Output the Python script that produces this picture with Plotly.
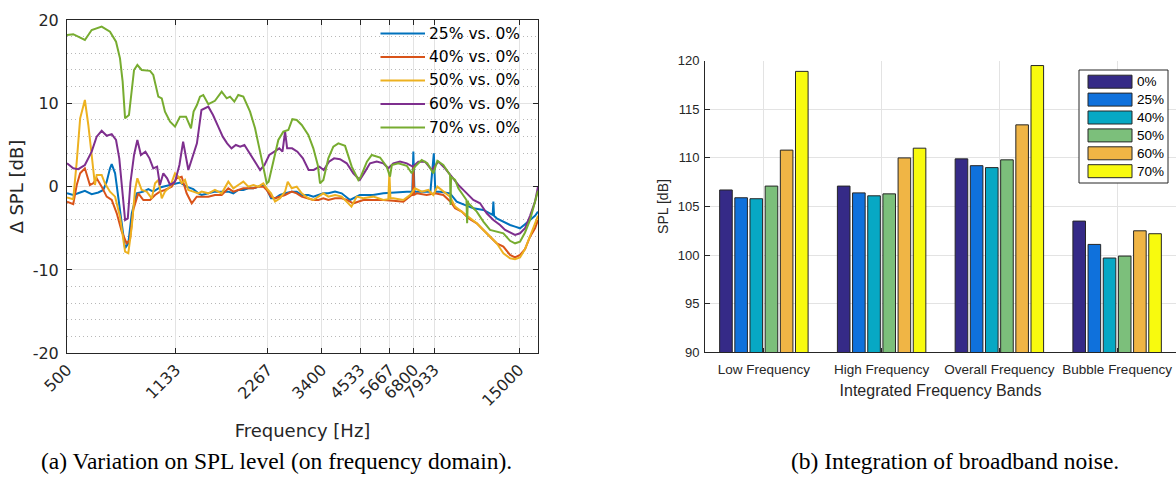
import math
import plotly.graph_objects as go

# ---------------- Left panel: delta SPL vs frequency ----------------
f25 = [500, 524, 552, 572, 602, 633, 657, 674, 691, 700, 718, 736, 755, 774, 793, 814, 845, 888, 922, 957,
       1006, 1059, 1127, 1170, 1230, 1293, 1343, 1377, 1448, 1522, 1601, 1683, 1748, 1814, 1884, 1956, 2032,
       2110, 2190, 2247, 2321, 2392, 2483, 2579, 2712, 2816, 2924, 3073, 3191, 3314, 3441, 3572, 3757, 3950,
       4206, 4527, 5000, 5404, 5825, 6445, 6720, 6772, 6830, 7120, 7700, 7900, 7990, 8279, 8925, 9383, 9992,
       10637, 11468, 12060, 12300, 12365, 12430, 12683, 13332, 14019, 14558, 15111, 15690, 16294, 16918, 17300]
d25 = [-0.8, -1.0, -0.7, -0.5, -0.9, -0.7, -0.4, 0.6, 2.2, 2.7, 1.6, -1.6, -4.8, -7.4, -6.8, -3.2, -0.8, -0.6, -0.3, -0.6,
       -0.1, 0.1, 0.4, 0.5, 0.0, -0.3, -0.8, -1.0, -0.8, -0.6, -0.6, -0.6, -0.8, -0.4, -0.4, -0.2, -0.2,
       0.0, 0.2, -0.3, -1.4, -1.4, -1.0, -0.8, -0.6, -0.6, -1.0, -1.0, -1.2, -1.0, -0.8, -0.8, -0.6, -0.8,
       -1.6, -1.0, -1.0, -0.8, -0.7, -0.6, -0.6, 4.2, -0.6, -0.6, -0.6, 4.0, -0.6, -0.6, -0.8, -1.8, -2.2,
       -2.6, -2.8, -3.2, -3.4, -1.8, -3.5, -3.8, -4.2, -4.6, -4.8, -5.0, -4.5, -4.0, -3.5, -3.0]

f40 = [500, 524, 538, 552, 572, 594, 609, 625, 649, 674, 700, 727, 755, 783, 803, 823, 855, 888, 934, 970,
       1006, 1045, 1099, 1141, 1185, 1230, 1278, 1327, 1377, 1448, 1522, 1601, 1683, 1748, 1814, 1884, 1956,
       2032, 2110, 2190, 2247, 2321, 2392, 2483, 2579, 2712, 2816, 2924, 3073, 3191, 3314, 3441, 3572, 3757,
       3950, 4102, 4311, 4648, 5012, 5404, 5825, 6281, 6689, 6740, 6772, 6810, 6947, 7488, 7970, 8484, 8960,
       9271, 9746, 10246, 10913, 11468, 12060, 12683, 13332, 14019, 14558, 15111, 15690, 16294, 16918, 17300]
d40 = [-1.8, -2.1, 0.2, 1.6, 2.2, 0.2, 0.4, 1.0, 0.0, -1.2, -1.6, -3.2, -5.4, -6.8, -6.4, -2.8, -0.8, -1.6, -1.6, -1.0,
       -0.6, -0.4, 0.0, 1.0, 1.2, -0.8, -2.0, -1.2, -1.2, -1.2, -1.0, -1.0, -0.2, -0.6, -0.4, -0.2, -0.2,
       -0.2, 0.0, 0.0, -0.4, -1.2, -1.4, -1.2, -1.0, -0.6, -0.8, -1.2, -1.4, -1.6, -1.6, -1.4, -1.6, -1.4,
       -1.4, -1.6, -2.0, -1.6, -1.6, -1.6, -1.7, -1.8, -1.0, -1.0, 2.6, -1.0, -0.8, -1.0, -0.8, -1.0, -1.8,
       -2.6, -3.0, -3.8, -4.4, -5.2, -6.0, -6.8, -7.2, -8.2, -8.5, -8.2, -7.5, -6.0, -5.0, -4.0]

f50 = [500, 524, 538, 552, 572, 587, 602, 617, 625, 649, 665, 691, 718, 745, 774, 793, 814, 834, 849, 877,
       911, 946, 970, 994, 1020, 1045, 1086, 1127, 1155, 1185, 1215, 1245, 1293, 1343, 1377, 1448, 1522,
       1601, 1683, 1748, 1814, 1884, 1956, 2032, 2110, 2190, 2247, 2321, 2392, 2483, 2579, 2632, 2712, 2816,
       2924, 3073, 3191, 3314, 3441, 3572, 3757, 3950, 4102, 4250, 4423, 4648, 5012, 5404, 5610, 5654, 5700,
       5825, 6281, 6604, 6859, 7213, 7579, 7868, 8113, 8484, 8925, 9271, 9746, 10246, 10913, 11468, 12060,
       12683, 13332, 14019, 14558, 15111, 15690, 16294, 16918, 17300]
d50 = [-1.3, -1.5, 3.0, 8.2, 10.4, 7.4, 3.8, 0.2, 1.4, 1.4, 0.4, -0.6, -1.2, -3.6, -7.8, -8.0, -4.8, -0.4, 1.0, -0.4,
       -0.6, -1.4, 0.4, 0.8, -1.4, -0.6, 0.0, 1.6, 1.2, 0.4, 0.8, -0.4, -0.6, -0.8, -0.6, -0.8, -0.4,
       -0.8, 0.6, -0.2, 0.2, 0.6, 0.0, 0.2, 0.0, 0.4, -0.2, -0.8, -1.8, -1.4, -0.6, 0.6, -0.2, 0.0,
       -0.8, -1.4, -1.6, -1.2, -0.8, -1.2, -1.0, -1.2, -1.8, -2.4, -1.2, -1.4, -1.2, -1.6, -1.5, 1.6, -1.4,
       -1.4, -1.6, -1.0, -0.2, -0.6, -0.4, -1.0, 0.0, -0.6, -1.2, -2.4, -3.0, -3.6, -4.4, -5.2, -6.0,
       -6.8, -8.0, -8.6, -8.7, -8.5, -7.5, -6.0, -4.5, -3.5]

f60 = [500, 524, 544, 572, 602, 625, 649, 674, 700, 723, 741, 756, 774, 790, 806, 828, 849, 872, 902, 930,
       957, 985, 1006, 1032, 1062, 1086, 1127, 1165, 1198, 1246, 1296, 1329, 1345, 1375, 1448, 1500, 1560,
       1614, 1668, 1724, 1781, 1840, 1900, 1962, 2030, 2100, 2138, 2210, 2290, 2380, 2470, 2530, 2580, 2620,
       2720, 2830, 2950, 3080, 3200, 3340, 3450, 3590, 3730, 3900, 4102, 4311, 4527, 4708, 4888, 5141, 5404,
       5609, 5825, 6125, 6445, 6741, 7030, 7396, 7775, 8173, 8595, 9039, 9502, 9992, 10637, 11186, 11762,
       12365, 13002, 13507, 14558, 15111, 15690, 16294, 16918, 17300]
d60 = [2.8, 2.2, 2.1, 2.6, 4.2, 6.0, 6.7, 6.1, 6.3, 5.6, 3.4, -0.2, -4.0, -3.8, 0.5, 3.8, 5.6, 3.8, 4.2, 3.4,
       2.2, 2.4, 0.2, 1.6, 1.0, 0.2, 0.6, 2.6, 5.4, 2.0, 3.8, 5.2, 6.6, 9.2, 9.6, 8.6, 7.2,
       6.0, 5.2, 4.6, 5.0, 4.8, 5.0, 4.2, 3.4, 2.6, 2.0, 2.6, 3.8, 4.2, 4.6, 4.2, 6.6, 4.6,
       4.6, 4.2, 3.4, 2.0, 2.0, 2.4, 2.0, 3.0, 3.4, 3.3, 2.8, 1.6, 0.8, 1.8, 2.8, 3.0, 2.8,
       2.2, 2.8, 3.0, 2.8, 2.4, 3.0, 3.0, 2.0, 3.0, 2.2, 1.2, 0.2, -0.6, -1.6, -2.0, -3.2,
       -4.0, -4.6, -5.2, -5.8, -5.6, -5.0, -3.5, -1.8, 0.0]

f70 = [500, 524, 572, 602, 649, 691, 723, 745, 760, 774, 797, 814, 828, 849, 877, 934, 957, 994, 1020, 1045,
       1086, 1127, 1170, 1224, 1271, 1296, 1329, 1360, 1394, 1448, 1522, 1601, 1663, 1705, 1761, 1814, 1884,
       1982, 2058, 2137, 2190, 2247, 2280, 2361, 2452, 2546, 2644, 2725, 2816, 2924, 3073, 3191, 3299, 3356,
       3441, 3572, 3709, 3852, 4051, 4260, 4477, 4560, 4775, 4952, 5272, 5543, 5682, 5760, 6048, 6445, 6689,
       6859, 7213, 7523, 7868, 8113, 8484, 8925, 8960, 8995, 9271, 9502, 9866, 10100, 10150, 10200, 10246,
       10913, 11468, 12060, 12683, 13332, 14019, 14558, 15111, 15690, 16294, 16918, 17300]
d70 = [18.2, 18.3, 17.6, 18.8, 19.2, 18.6, 17.4, 15.4, 12.6, 8.2, 8.6, 11.8, 14.0, 14.6, 14.0, 13.9, 13.4, 10.8, 10.6, 9.0,
       7.8, 7.2, 8.4, 8.4, 7.0, 9.0, 9.8, 10.8, 11.0, 9.9, 10.3, 11.4, 10.6, 10.8, 10.2, 11.0, 10.8,
       9.0, 7.0, 4.2, 2.2, 0.4, 0.6, 3.0, 5.6, 6.6, 6.8, 8.1, 8.0, 7.4, 6.2, 4.6, 2.6, 0.4,
       0.8, 3.4, 4.8, 5.2, 4.9, 2.4, 0.8, 1.2, 3.0, 3.8, 3.5, 2.4, 1.2, 2.6, 2.8, 2.5, 1.6,
       2.4, 3.2, 2.8, 1.6, 3.1, 2.6, 1.4, -2.2, 1.2, 0.8, -0.2, -1.0, -1.6, -4.4, -1.7, -2.0,
       -3.0, -4.2, -5.2, -5.4, -5.6, -6.5, -6.8, -6.6, -5.5, -4.0, -2.0, -0.5]

line_names = ["25% vs. 0%", "40% vs. 0%", "50% vs. 0%", "60% vs. 0%", "70% vs. 0%"]
line_colors = ["#0072BD", "#D95319", "#EDB120", "#7E2F8E", "#77AC30"]
line_x = [f25, f40, f50, f60, f70]
line_y = [d25, d40, d50, d60, d70]

freq_ticks = [500, 1133, 2267, 3400, 4533, 5667, 6800, 7933, 15000]
freq_min, freq_max = 500, 17300
dspl_ticks = [-20, -10, 0, 10, 20]

# ---------------- Right panel: integrated band SPL ----------------
bands = ["Low Frequency", "High Frequency", "Overall Frequency", "Bubble Frequency"]
void_labels = ["0%", "25%", "40%", "50%", "60%", "70%"]
spl_values = [
    [106.7, 107.1, 109.9, 103.5],   # 0%
    [105.9, 106.4, 109.2, 101.1],   # 25%
    [105.8, 106.1, 109.0, 99.7],    # 40%
    [107.1, 106.3, 109.8, 99.9],    # 50%
    [110.8, 110.0, 113.4, 102.5],   # 60%
    [118.9, 111.0, 119.5, 102.2],   # 70%
]
bar_colors = ["#352A87", "#0F71DC", "#07A8C4", "#7CBF7B", "#F0B545", "#F8FA0E"]
spl_ticks = [90, 95, 100, 105, 110, 115, 120]

# ---------------- Figure ----------------
W, H = 1176, 478
def fx(p):
    return p / W
def fy(p):
    return 1 - p / H

AX = "#262626"
GRID = "#e3e3e3"
SANS_L = "DejaVu Sans"
SANS_R = "Liberation Sans"
SERIF = "Liberation Serif"

fig = go.Figure()

for xs, ys, name, col in zip(line_x, line_y, line_names, line_colors):
    fig.add_trace(go.Scatter(x=xs, y=ys, mode="lines", name=name, showlegend=False,
                             line=dict(color=col, width=2), xaxis="x", yaxis="y"))

for lab, vals, col in zip(void_labels, spl_values, bar_colors):
    fig.add_trace(go.Bar(x=bands, y=vals, name=lab, showlegend=False,
                         marker=dict(color=col, line=dict(color=AX, width=1)),
                         xaxis="x2", yaxis="y2"))

shapes = []
annotations = []

# left legend (drawn manually to match the long line samples)
for i, (name, col) in enumerate(zip(line_names, line_colors)):
    yc = fy(33.5 + 23.5 * i)
    shapes.append(dict(type="line", xref="paper", yref="paper", x0=fx(380.5), x1=fx(425), y0=yc, y1=yc,
                       line=dict(color=col, width=2)))
    annotations.append(dict(xref="paper", yref="paper", x=fx(427), y=yc, text=name, showarrow=False,
                            xanchor="left", yanchor="middle", font=dict(family=SANS_L, size=15.5, color="#000")))

# right legend box
shapes.append(dict(type="rect", xref="paper", yref="paper", x0=fx(1079), x1=fx(1168), y0=fy(183), y1=fy(70),
                   line=dict(color=AX, width=1), fillcolor="white", layer="above"))
for i, (lab, col) in enumerate(zip(void_labels, bar_colors)):
    yc = 81.7 + 17.9 * i
    shapes.append(dict(type="rect", xref="paper", yref="paper", x0=fx(1088), x1=fx(1132), y0=fy(yc + 6.5),
                       y1=fy(yc - 6.5), line=dict(color=AX, width=1), fillcolor=col, layer="above"))
    annotations.append(dict(xref="paper", yref="paper", x=fx(1135), y=fy(yc), text=lab, showarrow=False,
                            xanchor="left", yanchor="middle", font=dict(family=SANS_R, size=13.5, color="#000")))

# captions
annotations.append(dict(xref="paper", yref="paper", x=fx(276), y=fy(461), text="(a) Variation on SPL level (on frequency domain).",
                        showarrow=False, xanchor="center", yanchor="middle",
                        font=dict(family=SERIF, size=23.5, color="#000")))
annotations.append(dict(xref="paper", yref="paper", x=fx(955), y=fy(461), text="(b) Integration of broadband noise.",
                        showarrow=False, xanchor="center", yanchor="middle",
                        font=dict(family=SERIF, size=23.5, color="#000")))

fig.update_layout(
    width=W, height=H, margin=dict(l=0, r=0, t=0, b=0),
    paper_bgcolor="white", plot_bgcolor="white", hovermode=False,
    barmode="group", bargap=0.227, bargroupgap=0.17,
    shapes=shapes, annotations=annotations, showlegend=False,
    xaxis=dict(domain=[fx(67), fx(538)], type="log",
               range=[math.log10(freq_min), math.log10(freq_max)],
               tickvals=freq_ticks, ticktext=[str(v) for v in freq_ticks], tickangle=-45,
               ticks="inside", ticklen=5, tickcolor=AX, showline=True, linecolor=AX, linewidth=1,
               mirror="ticks", showgrid=True, gridcolor=GRID, gridwidth=1, zeroline=False,
               tickfont=dict(family=SANS_L, size=16, color=AX), automargin=False,
               title=dict(text="Frequency [Hz]", font=dict(family=SANS_L, size=18, color=AX), standoff=15)),
    yaxis=dict(domain=[fy(353.3), fy(20)], range=[-20, 20],
               tickvals=dspl_ticks, ticktext=[str(v) for v in dspl_ticks],
               ticks="inside", ticklen=5, tickcolor=AX, showline=True, linecolor=AX, linewidth=1,
               mirror="ticks", showgrid=True, gridcolor=GRID, gridwidth=1, zeroline=False,
               minor=dict(dtick=2, showgrid=True, griddash="1px,3px", gridcolor="#b8b8b8", gridwidth=1, ticks=""),
               tickfont=dict(family=SANS_L, size=16, color=AX), automargin=False, ticklabelstandoff=4,
               title=dict(text="Δ SPL [dB]", font=dict(family=SANS_L, size=18, color=AX), standoff=4)),
    xaxis2=dict(domain=[fx(705), 1.0], anchor="y2", type="category",
                ticks="inside", ticklen=4, tickcolor=AX, showline=True, linecolor=AX, linewidth=1,
                showgrid=True, gridcolor=GRID, gridwidth=1, zeroline=False,
                tickfont=dict(family=SANS_R, size=13.5, color=AX), automargin=False, ticklabelstandoff=4,
                title=dict(text="Integrated Frequency Bands", font=dict(family=SANS_R, size=16, color=AX), standoff=9)),
    yaxis2=dict(domain=[fy(352.3), fy(60.7)], anchor="x2", range=[90, 120], tickvals=spl_ticks,
                ticks="inside", ticklen=5, tickcolor=AX, showline=True, linecolor=AX, linewidth=1,
                showgrid=True, gridcolor=GRID, gridwidth=1, zeroline=False,
                tickfont=dict(family=SANS_R, size=13, color=AX), automargin=False, ticklabelstandoff=2,
                title=dict(text="SPL [dB]", font=dict(family=SANS_R, size=14, color=AX), standoff=5)),
)

fig.write_html("out.html", config={"displayModeBar": False, "staticPlot": True},
               post_script="document.body.style.margin='0px';document.body.style.overflow='hidden';")
